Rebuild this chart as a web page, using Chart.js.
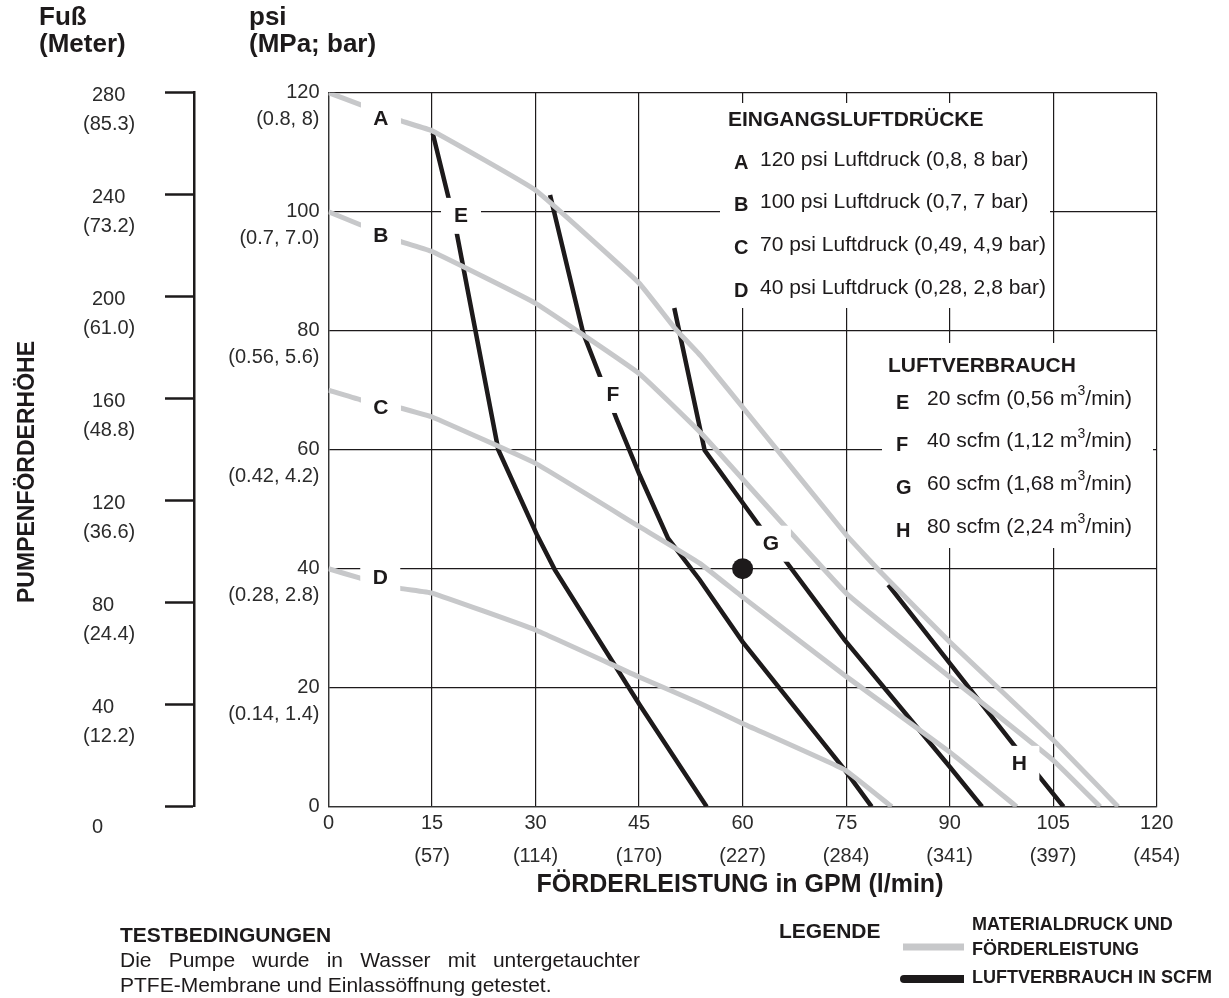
<!DOCTYPE html>
<html>
<head>
<meta charset="utf-8">
<script src="https://cdn.jsdelivr.net/npm/chart.js@4.4.0/dist/chart.umd.min.js"></script>
<style>
  html, body { margin: 0; padding: 0; background: #fff; }
  #wrap { width: 1229px; height: 998px; }
</style>
</head>
<body>
<div id="wrap"><canvas id="pumpChart" width="1229" height="998"></canvas></div>
<script>
// x axis: GPM with l/min underneath
const gpmTicks = [0, 15, 30, 45, 60, 75, 90, 105, 120];
const lpmLabels = ['', '(57)', '(114)', '(170)', '(227)', '(284)', '(341)', '(397)', '(454)'];
// inner y axis: psi with (MPa, bar)
const psiTicks = [0, 20, 40, 60, 80, 100, 120];
const mpaBarLabels = ['', '(0.14, 1.4)', '(0.28, 2.8)', '(0.42, 4.2)', '(0.56, 5.6)', '(0.7, 7.0)', '(0.8, 8)'];
// outer y axis: Fuß (Meter)
const feetTicks = [0, 40, 80, 120, 160, 200, 240, 280];
const meterLabels = ['', '(12.2)', '(24.4)', '(36.6)', '(48.8)', '(61.0)', '(73.2)', '(85.3)'];

// Materialdruck / Förderleistung (grey)
const flowA = [0, 4.6, 10.4, 15, 30, 45, 50.2, 54, 61.5, 75, 80.2, 90, 105, 114.4];
const psiA  = [120, 118, 115.3, 113.6, 103.6, 88, 80.4, 75.7, 65, 45.7, 39.2, 27.7, 11.2, 0];
const flowB = [0, 4.6, 10.4, 15, 30, 45, 54.2, 75, 90, 105, 111.8];
const psiB  = [100, 97.8, 95, 93.3, 84.6, 72.8, 62.5, 35.9, 21.8, 7.8, 0];
const flowC = [0, 4.6, 10.4, 15, 30, 45, 53.8, 59.6, 75, 90, 99.7];
const psiC  = [70, 68.4, 67, 65.5, 57.7, 47.1, 40.9, 35.6, 21.9, 9.2, 0];
const flowD = [0, 4.6, 10.4, 15, 30, 45, 53.8, 60, 74.8, 81.6];
const psiD  = [40, 38.4, 36.7, 35.9, 29.7, 21.8, 17.4, 14, 6.2, 0];

// Luftverbrauch (black)
const flowE = [15.1, 17.4, 18.6, 24.6, 30.2, 32.8, 45.1, 54.8];
const psiE  = [113.2, 102.3, 96.3, 60, 45.7, 39.8, 17.1, 0];
const flowF = [32.1, 36.9, 41.8, 45.1, 49.2, 53.8, 60, 74.8, 78.7];
const psiF  = [102.8, 79.6, 65, 55.7, 45.1, 38.1, 27.7, 6.2, 0];
const flowG = [50.1, 54.5, 62.5, 74.8, 89.8, 94.7];
const psiG  = [83.8, 59.9, 47.1, 28, 7, 0];
const flowH = [81.1, 99.5, 106.5];
const psiH  = [37.3, 10.1, 0];

// marked operating point
const pointFlow = [60];
const pointPsi = [40];

// legend texts
const pressureTitle = 'EINGANGSLUFTDRÜCKE';
const pressureKeys = ['A', 'B', 'C', 'D'];
const pressureTexts = ['120 psi Luftdruck (0,8, 8 bar)', '100 psi Luftdruck (0,7, 7 bar)',
  '70 psi Luftdruck (0,49, 4,9 bar)', '40 psi Luftdruck (0,28, 2,8 bar)'];
const airTitle = 'LUFTVERBRAUCH';
const airKeys = ['E', 'F', 'G', 'H'];
const airTexts = ['20 scfm (0,56 m³/min)', '40 scfm (1,12 m³/min)', '60 scfm (1,68 m³/min)', '80 scfm (2,24 m³/min)'];

// where the curve letters sit (data units)
const curveLabels = ['A', 'B', 'C', 'D', 'E', 'F', 'G', 'H'];
const curveLabelAt = [[7.6, 115.5], [7.6, 95.8], [7.6, 67], [7.5, 38.4], [19.2, 99.3], [41.2, 69.2], [64.1, 44.2], [100.1, 7.2]];

const FONT = '"Liberation Sans", Arial, Helvetica, sans-serif';
const GREY = '#c7c8ca';
const INK = '#1d1a1b';
const TXT = '#2b2b2b';

function pts(xs, ys) {
    return xs.map((x, i) => ({ x: x, y: ys[i] }));
}

function greyLine(xs, ys) {
    return { data: pts(xs, ys), borderColor: GREY, borderWidth: 5, pointRadius: 0, tension: 0.1, borderCapStyle: 'butt' };
}

function blackLine(xs, ys) {
    return { data: pts(xs, ys), borderColor: INK, borderWidth: 4.5, pointRadius: 0, tension: 0, borderCapStyle: 'butt' };
}

function justify(ctx, text, x, y, width) {
    const words = text.split(' ');
    const used = words.reduce((s, w) => s + ctx.measureText(w).width, 0);
    const gap = (width - used) / (words.length - 1);
    let cx = x;
    words.forEach(w => {
        ctx.fillText(w, cx, y);
        cx += ctx.measureText(w).width + gap;
    });
}

const decorations = {
    id: 'decorations',
    afterDatasetsDraw(chart) {
        const ctx = chart.ctx;
        const xs = chart.scales.x, ys = chart.scales.y;
        ctx.save();
        // white legend panels over the grid
        ctx.fillStyle = '#fff';
        ctx.fillRect(720, 103, 330, 205);
        ctx.fillRect(882, 343, 271, 205);

        // curve letters
        ctx.textAlign = 'center';
        ctx.textBaseline = 'middle';
        ctx.font = 'bold 21px ' + FONT;
        curveLabels.forEach((l, i) => {
            const px = xs.getPixelForValue(curveLabelAt[i][0]);
            const py = ys.getPixelForValue(curveLabelAt[i][1]);
            ctx.fillStyle = '#fff';
            ctx.fillRect(px - 20, py - 18, 40, 36);
            ctx.fillStyle = INK;
            ctx.fillText(l, px, py);
        });

        // panel 1
        ctx.textAlign = 'left';
        ctx.fillStyle = INK;
        ctx.font = 'bold 21px ' + FONT;
        ctx.fillText(pressureTitle, 728, 120);
        pressureKeys.forEach((k, i) => {
            const yy = 160 + i * 42.7;
            ctx.font = 'bold 20px ' + FONT;
            ctx.fillText(k, 734, yy + 3);
            ctx.font = '21px ' + FONT;
            ctx.fillText(pressureTexts[i], 760, yy);
        });

        // panel 2
        ctx.font = 'bold 21px ' + FONT;
        ctx.fillText(airTitle, 888, 366);
        airKeys.forEach((k, i) => {
            const yy = 399 + i * 42.7;
            ctx.font = 'bold 20px ' + FONT;
            ctx.fillText(k, 896, yy + 4);
            const parts = airTexts[i].split('³');
            ctx.font = '21px ' + FONT;
            ctx.fillText(parts[0], 927, yy);
            let cx = 927 + ctx.measureText(parts[0]).width;
            ctx.font = '14px ' + FONT;
            ctx.fillText('3', cx, yy - 8);
            cx += ctx.measureText('3').width;
            ctx.font = '21px ' + FONT;
            ctx.fillText(parts[1], cx, yy);
        });
        ctx.restore();
    },
    afterDraw(chart) {
        const ctx = chart.ctx;
        const ft = chart.scales.yft;
        ctx.save();
        ctx.fillStyle = INK;
        ctx.textBaseline = 'middle';

        // headers above the axes
        ctx.textAlign = 'left';
        ctx.font = 'bold 26px ' + FONT;
        ctx.fillText('Fuß', 39, 18);
        ctx.fillText('(Meter)', 39, 45);
        ctx.fillText('psi', 249, 18);
        ctx.fillText('(MPa; bar)', 249, 45);

        // Fuß (Meter) labels
        ctx.font = '20px ' + FONT;
        ctx.fillStyle = TXT;
        feetTicks.forEach((v, i) => {
            const py = ft.getPixelForValue(v);
            if (meterLabels[i]) {
                ctx.fillText(String(v), 92, py + 3);
                ctx.fillText(meterLabels[i], 83, py + 32);
            } else {
                ctx.fillText(String(v), 92, py + 21);
            }
        });

        // axis titles
        ctx.fillStyle = INK;
        ctx.textAlign = 'center';
        ctx.font = 'bold 25px ' + FONT;
        ctx.fillText('FÖRDERLEISTUNG in GPM (l/min)', 740, 885);
        ctx.save();
        ctx.translate(28, 472);
        ctx.rotate(-Math.PI / 2);
        ctx.font = 'bold 23px ' + FONT;
        ctx.fillText('PUMPENFÖRDERHÖHE', 0, 0);
        ctx.restore();

        // test conditions
        ctx.textAlign = 'left';
        ctx.font = 'bold 21px ' + FONT;
        ctx.fillText('TESTBEDINGUNGEN', 120, 936);
        ctx.font = '21px ' + FONT;
        justify(ctx, 'Die Pumpe wurde in Wasser mit untergetauchter', 120, 961, 520);
        ctx.fillText('PTFE-Membrane und Einlassöffnung getestet.', 120, 986);

        // legend
        ctx.font = 'bold 21px ' + FONT;
        ctx.fillText('LEGENDE', 779, 932);
        ctx.fillStyle = GREY;
        ctx.fillRect(903, 943.5, 61, 7);
        ctx.fillStyle = INK;
        ctx.beginPath();
        ctx.moveTo(904, 975);
        ctx.lineTo(964, 975);
        ctx.lineTo(964, 983);
        ctx.lineTo(904, 983);
        ctx.arc(904, 979, 4, Math.PI / 2, Math.PI * 1.5);
        ctx.fill();
        ctx.font = 'bold 18px ' + FONT;
        ctx.fillText('MATERIALDRUCK UND', 972, 925);
        ctx.fillText('FÖRDERLEISTUNG', 972, 950);
        ctx.fillText('LUFTVERBRAUCH IN SCFM', 972, 978);
        ctx.restore();
    }
};

const ctx = document.getElementById('pumpChart').getContext('2d');
new Chart(ctx, {
    type: 'line',
    data: {
        datasets: [
            greyLine(flowA, psiA),
            greyLine(flowB, psiB),
            greyLine(flowC, psiC),
            greyLine(flowD, psiD),
            blackLine(flowE, psiE),
            blackLine(flowF, psiF),
            blackLine(flowG, psiG),
            blackLine(flowH, psiH),
            { data: pts(pointFlow, pointPsi), showLine: false, pointRadius: 10.5, pointHoverRadius: 10.5,
              pointBackgroundColor: INK, pointBorderColor: INK, pointBorderWidth: 0 }
        ]
    },
    options: {
        responsive: false,
        animation: false,
        events: [],
        layout: { padding: { top: 92.7, right: 72.3, bottom: 0, left: 0 } },
        plugins: { legend: { display: false }, tooltip: { enabled: false } },
        scales: {
            x: {
                type: 'linear', position: 'bottom', min: 0, max: 120,
                afterBuildTicks: (s) => { s.ticks = gpmTicks.map(v => ({ value: v })); },
                afterFit: (s) => { s.height = 191.3; },
                grid: { color: INK, lineWidth: 1.2, drawTicks: false },
                border: { color: '#333', width: 1.3 },
                ticks: {
                    padding: 0, color: TXT, maxRotation: 0, autoSkip: false,
                    font: { family: FONT, size: 20, lineHeight: 1.65 },
                    callback: (v) => {
                        const i = gpmTicks.indexOf(v);
                        return lpmLabels[i] ? [String(v), lpmLabels[i]] : String(v);
                    }
                }
            },
            y: {
                type: 'linear', position: 'left', weight: 0, min: 0, max: 120,
                afterBuildTicks: (s) => { s.ticks = psiTicks.map(v => ({ value: v })); },
                afterFit: (s) => { s.width = 134.5; },
                grid: { color: INK, lineWidth: 1.2, drawTicks: false },
                border: { color: '#333', width: 1.3 },
                ticks: {
                    padding: 9, color: TXT, autoSkip: false, labelOffset: 13.5,
                    font: { family: FONT, size: 20, lineHeight: 1.35 },
                    callback: (v) => {
                        const i = psiTicks.indexOf(v);
                        return [String(v), mpaBarLabels[i]];
                    }
                }
            },
            yft: {
                type: 'linear', position: 'left', weight: 1, min: 0, max: 280,
                afterBuildTicks: (s) => { s.ticks = feetTicks.map(v => ({ value: v })); },
                afterFit: (s) => { s.width = 194; },
                grid: { drawOnChartArea: false, drawTicks: true, tickLength: 29, tickWidth: 2.5, tickColor: INK, color: INK },
                border: { color: INK, width: 2.5 },
                ticks: { display: false }
            }
        }
    },
    plugins: [decorations]
});
</script>
</body>
</html>
